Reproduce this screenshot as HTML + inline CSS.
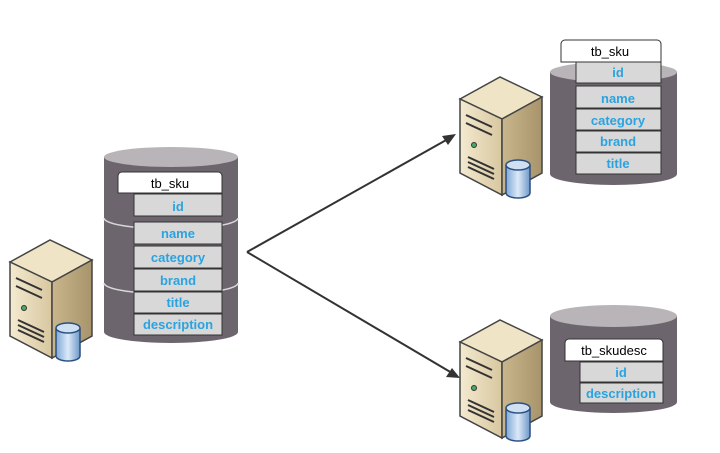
<!DOCTYPE html>
<html><head><style>
body{margin:0;background:#fff;}
svg{display:block;font-family:"Liberation Sans",sans-serif;}
.h{font-size:13px;fill:#000;text-anchor:middle;}
.f{font-size:13px;font-weight:bold;fill:#2aa3e0;text-anchor:middle;}
.r{fill:#d8d8d8;stroke:#333;stroke-width:1;}
</style></head><body>
<svg width="720" height="453" viewBox="0 0 720 453">
<defs>
<linearGradient id="front" x1="0" x2="1"><stop offset="0" stop-color="#f4ead0"/><stop offset="1" stop-color="#d8c7a0"/></linearGradient>
<linearGradient id="side" x1="0" x2="1"><stop offset="0" stop-color="#c9b68c"/><stop offset="1" stop-color="#a8946b"/></linearGradient>
<linearGradient id="db" x1="0" x2="1"><stop offset="0" stop-color="#7fa8d8"/><stop offset="0.5" stop-color="#dce9f7"/><stop offset="1" stop-color="#6f98c8"/></linearGradient>
<g id="srv">
<polygon points="0,22 40,0 82,20 42,42" fill="#efe4c6" stroke="#444" stroke-width="1.5"/>
<polygon points="0,22 42,42 42,118 0,96" fill="url(#front)" stroke="#444" stroke-width="1.5"/>
<polygon points="42,42 82,20 82,96 42,118" fill="url(#side)" stroke="#444" stroke-width="1.5"/>
<path d="M6,38 L32,50 M6,46 L32,58 M8,80 L34,92 M8,85 L34,97 M8,90 L34,102" stroke="#333" stroke-width="2"/>
<circle cx="14" cy="68" r="2.5" fill="#4a6" stroke="#333"/>
<path d="M46,88 v28 a12,5 0 0 0 24,0 v-28" fill="url(#db)" stroke="#2a4f80" stroke-width="1.5"/>
<ellipse cx="58" cy="88" rx="12" ry="5" fill="#cfe0f3" stroke="#2a4f80" stroke-width="1.5"/>
</g>
</defs>
<!-- arrows -->
<line x1="247" y1="252" x2="448" y2="139" stroke="#333" stroke-width="2"/>
<polygon points="456,134 442,136 448,145" fill="#333"/>
<line x1="247" y1="252" x2="452" y2="373" stroke="#333" stroke-width="2"/>
<polygon points="460,378 446,377 452,368" fill="#333"/>

<!-- left cylinder -->
<path d="M104,157 V332 A67,11 0 0 0 238,332 V157 Z" fill="#6c656d"/>
<path d="M104,218 A67,11 0 0 0 238,218 M104,283 A67,11 0 0 0 238,283" stroke="#d8d8d8" stroke-width="1.5" fill="none"/>
<ellipse cx="171" cy="157" rx="67" ry="10" fill="#b8b4b8"/>
<path d="M118,193 V176 a4,4 0 0 1 4,-4 H218 a4,4 0 0 1 4,4 V193 Z" fill="#fff" stroke="#333"/>
<text class="h" x="170" y="188">tb_sku</text>
<rect class="r" x="134" y="194" width="88" height="22"/><text class="f" x="178" y="211">id</text>
<rect class="r" x="134" y="222" width="88" height="22"/><text class="f" x="178" y="238">name</text>
<rect class="r" x="134" y="246" width="88" height="22"/><text class="f" x="178" y="262">category</text>
<rect class="r" x="134" y="269" width="88" height="22"/><text class="f" x="178" y="285">brand</text>
<rect class="r" x="134" y="292" width="88" height="21"/><text class="f" x="178" y="307">title</text>
<rect class="r" x="134" y="314" width="88" height="21"/><text class="f" x="178" y="329">description</text>
<use href="#srv" x="10" y="240"/>

<!-- top right -->
<path d="M550,72 V174 A63.5,11 0 0 0 677,174 V72 Z" fill="#6c656d"/>
<ellipse cx="613.5" cy="72" rx="63.5" ry="10" fill="#b8b4b8"/>
<path d="M561,62 V44 a4,4 0 0 1 4,-4 H657 a4,4 0 0 1 4,4 V62 Z" fill="#fff" stroke="#333"/>
<text class="h" x="610" y="56">tb_sku</text>
<rect class="r" x="576" y="62" width="85" height="21"/><text class="f" x="618" y="77">id</text>
<rect class="r" x="576" y="86" width="85" height="22"/><text class="f" x="618" y="103">name</text>
<rect class="r" x="576" y="109" width="85" height="21"/><text class="f" x="618" y="125">category</text>
<rect class="r" x="576" y="131" width="85" height="21"/><text class="f" x="618" y="146">brand</text>
<rect class="r" x="576" y="153" width="85" height="21"/><text class="f" x="618" y="168">title</text>
<use href="#srv" x="460" y="77"/>

<!-- bottom right -->
<path d="M550,316 V402 A63.5,11 0 0 0 677,402 V316 Z" fill="#6c656d"/>
<ellipse cx="613.5" cy="316" rx="63.5" ry="11" fill="#b8b4b8"/>
<path d="M565,361 V343 a4,4 0 0 1 4,-4 H659 a4,4 0 0 1 4,4 V361 Z" fill="#fff" stroke="#333"/>
<text class="h" x="614" y="355">tb_skudesc</text>
<rect class="r" x="580" y="362" width="83" height="20"/><text class="f" x="621" y="377">id</text>
<rect class="r" x="580" y="383" width="83" height="20"/><text class="f" x="621" y="398">description</text>
<use href="#srv" x="460" y="320"/>
</svg>
</body></html>
